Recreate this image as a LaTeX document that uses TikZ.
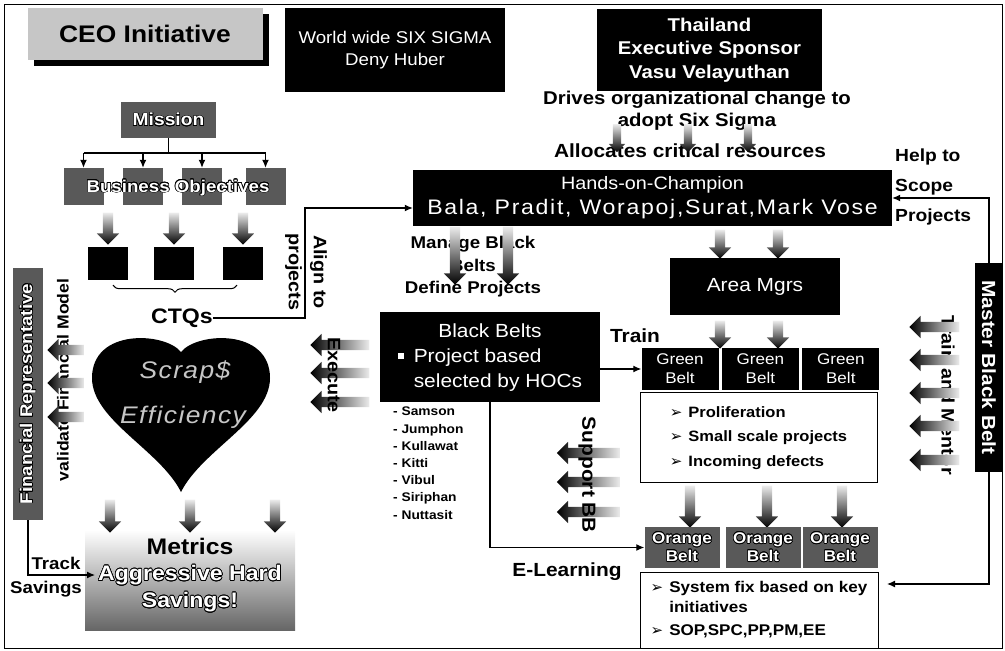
\documentclass[tikz,border=0pt]{standalone}
\usepackage{fontspec}
\setmainfont{Liberation Sans}[FakeStretch=1.1]
\newfontfamily\symfont{DejaVu Sans}
\usepackage{contour}
\contourlength{0.7pt}
\usetikzlibrary{arrows.meta,positioning,shapes.arrows,shadows,decorations.pathreplacing}
\newcommand{\fsz}[2]{\fontsize{#1}{#2}\selectfont}
\newcommand{\pointer}{{\symfont\mdseries\fontsize{15}{15}\selectfont ➢}}
\begin{document}
\begin{tikzpicture}[x=1pt,y=-1pt,
bbox/.style={fill=black,text=white,inner sep=0pt,align=center},
tbox/.style={fill=black!65,text=white,inner sep=0pt,align=center},
wbox/.style={draw,line width=1pt,fill=white,inner sep=0pt},
lbl/.style={inner sep=0pt,align=center},
conn/.style={-{Latex[length=8pt,width=7pt]},line width=1.2pt},
garrow/.style={single arrow,single arrow head extend=6pt,inner xsep=0pt,inner ysep=5pt,minimum height=#1,draw=none},
darrow/.style={garrow=#1,rotate=-90,top color=gray!15,bottom color=black},
larrow/.style={garrow=#1,rotate=180,left color=black,right color=gray!15}
]
\useasboundingbox (0,0) rectangle (1005,651);
\draw[line width=1pt] (4,4) rectangle (1002,648);

\node[fill=gray!45,minimum width=235pt,minimum height=52pt,drop shadow={shadow xshift=6pt,shadow yshift=-6pt,fill=black,opacity=1},font=\bfseries\fsz{24}{28}] (ceo) at (145,34) {CEO Initiative};
\node[bbox,minimum width=220pt,minimum height=84pt,font=\fsz{17}{22}] (sigma) at (395,50) {World wide SIX SIGMA\\Deny Huber};
\node[bbox,minimum width=225pt,minimum height=82pt,font=\bfseries\fsz{18.5}{23.5}] (sponsor) at (709.5,50) {Thailand\\Executive Sponsor\\Vasu Velayuthan};
\node[lbl,font=\bfseries\fsz{18.5}{22}] (drives) at (697,111) {Drives organizational change to\\adopt Six Sigma};
\node[lbl,font=\bfseries\fsz{19}{22}] (alloc) at (690,151) {Allocates critical resources};
\node[darrow=28pt,inner ysep=4pt,single arrow head extend=4pt] (sa1) at (617,136) {};
\node[darrow=28pt,inner ysep=4pt,single arrow head extend=4pt] (sa2) at (688,136) {};
\node[darrow=28pt,inner ysep=4pt,single arrow head extend=4pt] (sa3) at (748,136) {};

\node[bbox,minimum width=479pt,minimum height=56pt,font=\fsz{18}{25}] (hoc) at (652.5,198) {Hands-on-Champion\\{\fsz{21}{25}\addfontfeature{LetterSpace=8}Bala, Pradit, Worapoj,Surat,Mark Vose}};
\node[lbl,anchor=west,align=left,font=\bfseries\fsz{17.5}{30}] (help) at (895,187) {Help to\\Scope\\Projects};
\node[bbox,rotate=-90,minimum width=209pt,minimum height=28pt,font=\bfseries\fsz{19}{22}] (mbb) at (989,367.5) {Master Black Belt};
\coordinate (fixin) at (887,584);
\draw[conn] (mbb.west) |- (hoc.east);
\draw[conn] (mbb.east) |- (fixin);

\node[lbl,font=\bfseries\fsz{17}{22.5}] (manage) at (473,267) {Manage Black\\Belts\\Define Projects};
\node[darrow=58pt] (ma1) at (455,253) {};
\node[darrow=58pt] (ma2) at (508,253) {};

\node[bbox,minimum width=220pt,minimum height=90pt,font=\fsz{19}{25}] (bb) at (490,357) {\begin{tabular}{@{}l@{\hspace{10pt}}l@{}}\multicolumn{2}{c}{Black Belts}\\ \rule[3pt]{6pt}{6pt} & Project based\\ & selected by HOCs\end{tabular}};
\node[lbl,font=\bfseries\fsz{19}{22}] (train) at (635,336) {Train};
\node[lbl,anchor=north west,align=left,font=\bfseries\fsz{12.5}{17.2}] (bbnames) at (393,407) {- Samson\\- Jumphon\\- Kullawat\\- Kitti\\- Vibul\\- Siriphan\\- Nuttasit};
\node[lbl,font=\bfseries\fsz{19}{22}] (elearn) at (567,572) {E-Learning};
\node[larrow=63pt] (sp1) at (591,453) {};
\node[larrow=63pt] (sp2) at (591,482) {};
\node[larrow=63pt] (sp3) at (591,512) {};
\node[lbl,rotate=-90,font=\bfseries\fsz{19}{22}] (support) at (587,475) {Support BB};

\node[bbox,minimum width=170pt,minimum height=57pt,font=\fsz{19}{22}] (area) at (755,286.5) {Area Mgrs};
\node[darrow=29pt] (ha1) at (720,241.5) {};
\node[darrow=29pt] (ha2) at (778,241.5) {};
\node[darrow=28pt] (ag1) at (720,332) {};
\node[darrow=28pt] (ag2) at (778,332) {};
\node[bbox,minimum width=77pt,minimum height=42pt,font=\fsz{15.5}{19}] (gb1) at (680,369) {Green\\Belt};
\node[bbox,minimum width=77pt,minimum height=42pt,font=\fsz{15.5}{19},right=3pt of gb1] (gb2) {Green\\Belt};
\node[bbox,minimum width=77pt,minimum height=42pt,font=\fsz{15.5}{19},right=3pt of gb2] (gb3) {Green\\Belt};
\draw[conn] (bb.east |- gb1) -- (gb1.west);

\node[wbox,minimum width=237pt,minimum height=90pt,font=\bfseries\fsz{15}{24.5}] (prolif) at (758.5,437) {\begin{tabular}{@{}l@{\hspace{6pt}}l@{}}\pointer & Proliferation\\ \pointer & Small scale projects\\ \pointer & Incoming defects\end{tabular}};
\node[darrow=42pt] (po1) at (690,504) {};
\node[darrow=42pt] (po2) at (767,504) {};
\node[darrow=42pt] (po3) at (842,504) {};
\node[tbox,minimum width=75pt,minimum height=41pt,font=\bfseries\fsz{15.5}{18}] (ob1) at (682,547.5) {\contour{black}{Orange}\\\contour{black}{Belt}};
\node[tbox,minimum width=75pt,minimum height=41pt,font=\bfseries\fsz{15.5}{18}] (ob2) at (763,547.5) {\contour{black}{Orange}\\\contour{black}{Belt}};
\node[tbox,minimum width=75pt,minimum height=41pt,font=\bfseries\fsz{15.5}{18}] (ob3) at (840,547.5) {\contour{black}{Orange}\\\contour{black}{Belt}};
\node[wbox,minimum width=238pt,minimum height=76pt,font=\bfseries\fsz{15.5}{20}] (sysfix) at (759,610) {\begin{tabular}{@{}l@{\hspace{6pt}}l@{}}\pointer & System fix based on key\\ & initiatives\\[3pt] \pointer & SOP,SPC,PP,PM,EE\end{tabular}};
\draw[conn] (bb.south) |- (ob1.west);

\node[lbl,rotate=-90,font=\bfseries\fsz{18}{22}] (mentor) at (948,395) {Train and Mentor};
\node[larrow=50pt] (tm1) at (937,327) {};
\node[larrow=50pt] (tm2) at (937,360) {};
\node[larrow=50pt] (tm3) at (937,393) {};
\node[larrow=50pt] (tm4) at (937,426) {};
\node[larrow=50pt] (tm5) at (937,460) {};

\node[tbox,minimum width=95pt,minimum height=36pt,font=\bfseries\fsz{17.5}{20}] (mission) at (168.5,120) {\contour{black}{Mission}};
\node[tbox,minimum width=40pt,minimum height=37pt] (bo1) at (83.5,186.5) {};
\node[tbox,minimum width=40pt,minimum height=37pt] (bo2) at (143,186.5) {};
\node[tbox,minimum width=40pt,minimum height=37pt] (bo3) at (202,186.5) {};
\node[tbox,minimum width=40pt,minimum height=37pt] (bo4) at (265.5,186.5) {};
\node[lbl,text=white,font=\bfseries\fsz{17}{20}] (botext) at (178,188) {\contour{black}{Business Objectives}};
\coordinate (split) at (168.5,153);
\draw[line width=1.2pt] (mission.south) -- (split);
\draw[line width=1.2pt] (bo1.north |- split) -- (bo4.north |- split);
\draw[conn] (bo1.north |- split) -- (bo1.north);
\draw[conn] (bo2.north |- split) -- (bo2.north);
\draw[conn] (bo3.north |- split) -- (bo3.north);
\draw[conn] (bo4.north |- split) -- (bo4.north);
\node[darrow=32pt] (bs1) at (108,226) {};
\node[darrow=32pt] (bs2) at (174,226) {};
\node[darrow=32pt] (bs3) at (243,226) {};
\node[bbox,minimum width=40pt,minimum height=33pt] (sq1) at (108,263.5) {};
\node[bbox,minimum width=40pt,minimum height=33pt] (sq2) at (174,263.5) {};
\node[bbox,minimum width=40pt,minimum height=33pt] (sq3) at (243,263.5) {};
\draw[line width=1pt,decorate,decoration={brace,amplitude=7pt,mirror}] ([xshift=5pt,yshift=-5pt]sq1.south) -- ([xshift=-6pt,yshift=-5pt]sq3.south);
\node[lbl,font=\bfseries\fsz{21}{24}] (ctq) at (182,318) {CTQs};
\coordinate (alignup) at (305,208);
\draw[conn] (ctq.east) -| (alignup) -- (hoc.west |- alignup);
\node[lbl,rotate=-90,font=\bfseries\fsz{18}{25}] (align) at (306,272) {Align to\\projects};

\fill (181,352) .. controls (165,332) and (92,328) .. (92,378) .. controls (92,420) and (160,450) .. (181,492) .. controls (202,450) and (270,420) .. (270,378) .. controls (270,328) and (197,332) .. (181,352) -- cycle;
\node[lbl,text=gray!45,font=\itshape\fsz{24}{26}\addfontfeature{LetterSpace=6}] (scrap) at (185,372) {Scrap\$};
\node[lbl,text=gray!45,font=\itshape\fsz{24}{26}\addfontfeature{LetterSpace=6}] (eff) at (183,417) {Efficiency};

\node[tbox,rotate=90,minimum width=252pt,minimum height=30pt,font=\bfseries\fsz{17}{20}] (finrep) at (28,394) {\contour{black}{Financial Representative}};
\node[lbl,rotate=90,font=\bfseries\fsz{16}{20}] (validate) at (63,380) {validate Financial Model};
\node[larrow=37pt] (fa1) at (68.5,350) {};
\node[larrow=37pt] (fa2) at (68.5,383) {};
\node[larrow=37pt] (fa3) at (68.5,417) {};

\node[minimum width=210pt,minimum height=100pt,top color=white,bottom color=black!60,inner sep=0pt] (metrics) at (190,580) {};
\node[lbl,font=\bfseries\fsz{22.5}{24}] (mtitle) at (190,546) {Metrics};
\node[lbl,text=white,font=\bfseries\fsz{21}{27}] (hard) at (190,589) {\contour{black}{Aggressive Hard}\\\contour{black}{Savings!}};
\node[darrow=33pt] (hm1) at (110,513.5) {};
\node[darrow=33pt] (hm2) at (190,513.5) {};
\node[darrow=33pt] (hm3) at (275,513.5) {};
\coordinate (trackin) at (95,575);
\draw[conn] (finrep.west) |- (trackin);
\node[lbl,font=\bfseries\fsz{17}{20}] (track) at (56,563) {Track};
\node[lbl,font=\bfseries\fsz{17}{20}] (savings) at (46,589) {Savings};

\node[larrow=59pt] (ex1) at (342.5,345) {};
\node[larrow=59pt] (ex2) at (342.5,373) {};
\node[larrow=59pt] (ex3) at (342.5,402) {};
\node[lbl,rotate=-90,font=\bfseries\fsz{18}{22}] (execute) at (334,375) {Execute};
\end{tikzpicture}
\end{document}
